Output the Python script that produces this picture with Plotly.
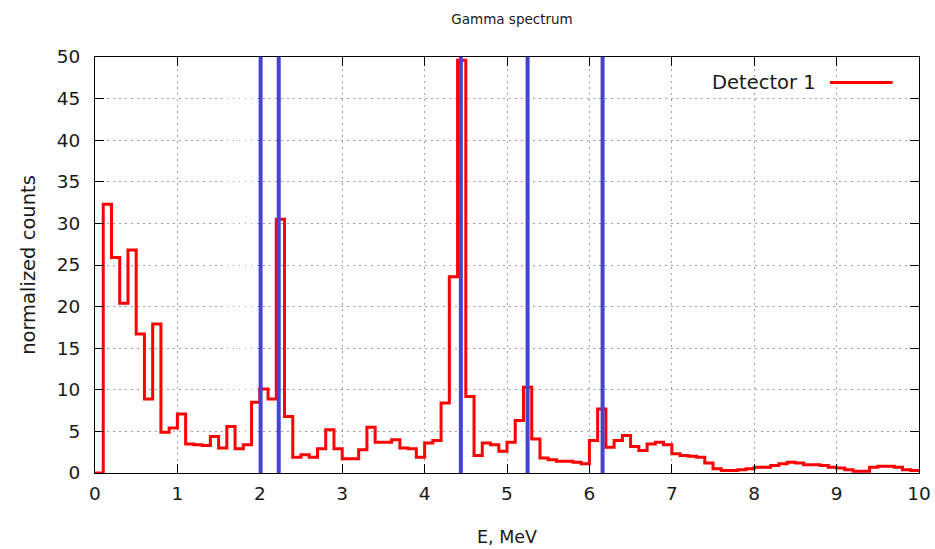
import plotly.graph_objects as go

# bin lower edges (MeV)
E_lo = [0.0, 0.1, 0.2, 0.3, 0.4, 0.5, 0.6, 0.7, 0.8, 0.9,
        1.0, 1.1, 1.2, 1.3, 1.4, 1.5, 1.6, 1.7, 1.8, 1.9,
        2.0, 2.1, 2.2, 2.3, 2.4, 2.5, 2.6, 2.7, 2.8, 2.9,
        3.0, 3.1, 3.2, 3.3, 3.4, 3.5, 3.6, 3.7, 3.8, 3.9,
        4.0, 4.1, 4.2, 4.3, 4.4, 4.5, 4.6, 4.7, 4.8, 4.9,
        5.0, 5.1, 5.2, 5.3, 5.4, 5.5, 5.6, 5.7, 5.8, 5.9,
        6.0, 6.1, 6.2, 6.3, 6.4, 6.5, 6.6, 6.7, 6.8, 6.9,
        7.0, 7.1, 7.2, 7.3, 7.4, 7.5, 7.6, 7.7, 7.8, 7.9,
        8.0, 8.1, 8.2, 8.3, 8.4, 8.5, 8.6, 8.7, 8.8, 8.9,
        9.0, 9.1, 9.2, 9.3, 9.4, 9.5, 9.6, 9.7, 9.8, 9.9]
E_end = 10.0

counts = [0.0, 32.3, 25.9, 20.4, 26.8, 16.7, 8.9, 17.9, 4.9, 5.4,
          7.1, 3.5, 3.4, 3.3, 4.4, 3.0, 5.6, 2.9, 3.4, 8.5,
          10.1, 8.9, 30.5, 6.8, 1.9, 2.2, 1.9, 2.9, 5.2, 2.9,
          1.7, 1.7, 2.8, 5.5, 3.7, 3.7, 4.0, 3.0, 2.9, 1.9,
          3.6, 3.9, 8.4, 23.6, 49.6, 9.2, 2.1, 3.6, 3.4, 2.6,
          3.7, 6.3, 10.3, 4.1, 1.8, 1.6, 1.4, 1.4, 1.3, 1.1,
          3.9, 7.7, 3.1, 3.9, 4.5, 3.2, 2.7, 3.5, 3.7, 3.4,
          2.3, 2.1, 2.0, 1.9, 1.2, 0.5, 0.3, 0.3, 0.4, 0.5,
          0.7, 0.7, 0.9, 1.1, 1.3, 1.2, 1.0, 1.0, 0.9, 0.7,
          0.6, 0.4, 0.2, 0.2, 0.7, 0.8, 0.8, 0.7, 0.4, 0.3]

gamma_lines = [2.01, 2.23, 4.44, 5.25, 6.16]

x_ticks = [0, 1, 2, 3, 4, 5, 6, 7, 8, 9, 10]
y_ticks = [0, 5, 10, 15, 20, 25, 30, 35, 40, 45, 50]

FONT = "DejaVu Sans"
TXT = "#1a1a1a"
RED = "#ff0000"
BLUE = "#4444d0"

fig = go.Figure()
fig.add_trace(go.Scatter(
    x=E_lo + [E_end], y=counts + [counts[-1]],
    mode="lines", line=dict(color=RED, width=3, shape="hv"),
    name="Detector 1", showlegend=False))

for e in gamma_lines:
    fig.add_vline(x=e, line=dict(color=BLUE, width=4), layer="above")

# legend (text followed by sample line, gnuplot style)
fig.add_annotation(xref="paper", yref="paper", x=0.878, y=0.939,
                   xanchor="right", yanchor="middle", showarrow=False,
                   text="Detector 1", font=dict(family=FONT, size=19.5, color=TXT))
fig.add_shape(type="line", xref="paper", yref="paper",
              x0=0.892, x1=0.968, y0=0.939, y1=0.939,
              line=dict(color=RED, width=3))

axis_common = dict(
    showline=True, linecolor="black", linewidth=1, mirror="ticks",
    ticks="inside", ticklen=9, tickcolor="black", tickwidth=1,
    showgrid=True, gridcolor="#a0a0a0", griddash="1.5px,4.5px", gridwidth=1,
    zeroline=False, automargin=False,
    tickfont=dict(family=FONT, size=18.5, color=TXT),
)

fig.update_xaxes(range=[0, 10], tickvals=x_ticks, ticktext=[str(v) for v in x_ticks],
                 ticklabelstandoff=4,
                 title=dict(text="E, MeV", font=dict(family=FONT, size=17.5, color=TXT), standoff=27),
                 **axis_common)
fig.update_yaxes(range=[0, 50], tickvals=y_ticks, ticktext=[str(v) for v in y_ticks],
                 ticklabelstandoff=10,
                 title=dict(text="normalized counts", font=dict(family=FONT, size=19.5, color=TXT), standoff=15),
                 **axis_common)

fig.update_layout(
    width=935, height=549,
    margin=dict(l=95, r=16, t=57, b=76),
    paper_bgcolor="white", plot_bgcolor="white",
    title=dict(text="Gamma spectrum", x=0.5476, xanchor="center", y=0.965, yanchor="middle",
               font=dict(family=FONT, size=13.5, color=TXT)),
    showlegend=False,
)

fig.write_html("out.html")
